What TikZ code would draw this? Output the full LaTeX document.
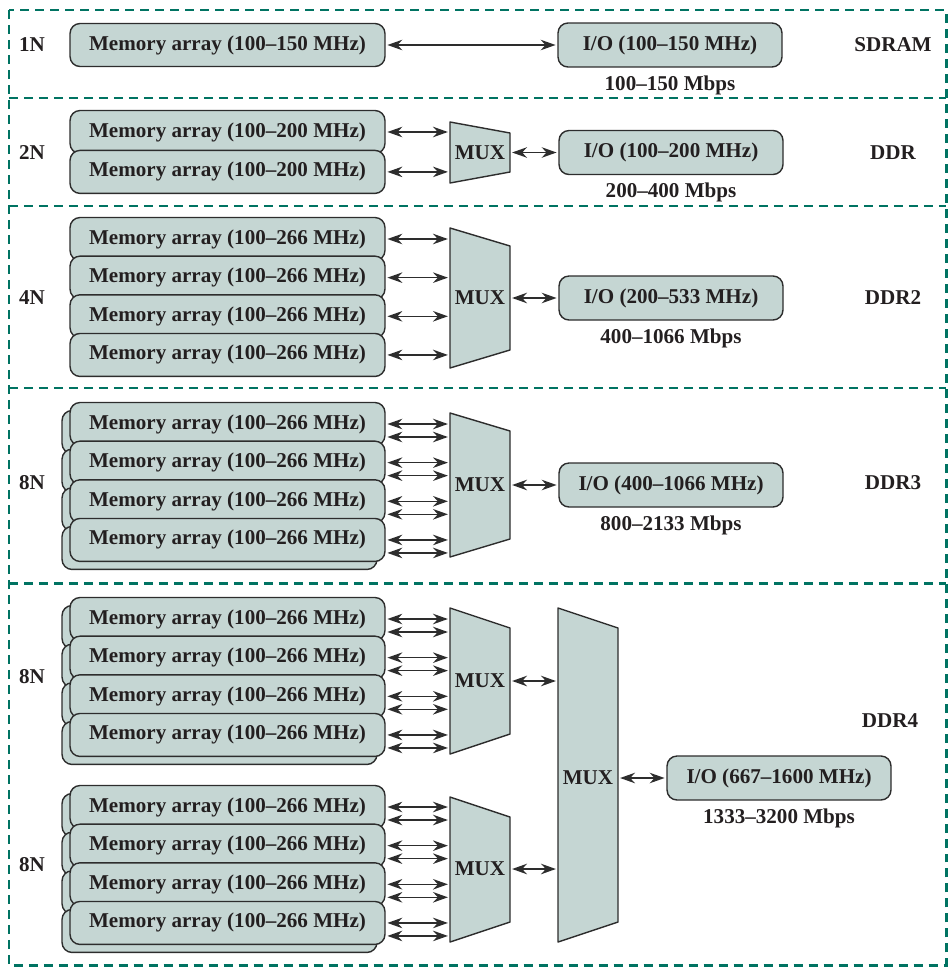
\documentclass[tikz,border=0pt]{standalone}
\usepackage{fontspec}
\setmainfont{Liberation Serif}
\usetikzlibrary{positioning,arrows.meta,shadows}
\definecolor{boxfill}{RGB}{197,214,211}
\definecolor{boxline}{RGB}{45,45,45}
\definecolor{dashteal}{RGB}{0,115,98}
\definecolor{txt}{RGB}{35,31,32}
\tikzset{
  memarray/.style={draw=boxline,fill=boxfill,rounded corners=0.2cm,line width=0.8pt,
    minimum width=6.3cm,minimum height=0.86cm,inner sep=0pt,text=txt},
  membank/.style={memarray,copy shadow={shadow xshift=-0.16cm,shadow yshift=-0.16cm}},
  iobox/.style={memarray,minimum width=4.48cm,minimum height=0.88cm},
  muxbody/.style={draw=boxline,fill=boxfill,line width=0.8pt,line join=round},
  muxlbl/.style={minimum width=1.2cm,inner sep=0pt,text=txt},
  link/.style={{Stealth[length=8.5pt,width=6pt,inset=2.8pt]}-{Stealth[length=8.5pt,width=6pt,inset=2.8pt]},
    line width=0.85pt,draw=boxline,shorten <=1pt,shorten >=1pt},
  lbl/.style={text=txt},
  divider/.style={dashteal,line width=1.7pt,dash pattern=on 0.18cm off 0.12cm}
}
\begin{document}
\begin{tikzpicture}[x=0.02cm,y=-0.02cm,font=\bfseries\fontsize{12}{14}\selectfont]
\useasboundingbox (0,0) rectangle (948,967);
% frame and separators
\draw[divider] (9,10) rectangle (946,965);
\draw[divider] (9,98) -- (946,98);
\draw[divider] (9,206) -- (946,206);
\draw[divider] (9,388) -- (946,388);
\draw[divider] (9,583) -- (946,583);
% SDRAM
\node[lbl] (n1) at (32,45) {1N};
\node[memarray] (m11) at (227.5,45) {Memory array (100--150 MHz)};
\node[iobox] (io1) at (670,45) {I/O (100--150 MHz)};
\node[lbl,below=1pt of io1] (r1) {100--150 Mbps};
\node[lbl] (t1) at (893,45) {SDRAM};
\draw[link] (m11) -- (io1);
% DDR
\node[lbl] (n2) at (32,153) {2N};
\node[memarray] (m21) at (227.5,132) {Memory array (100--200 MHz)};
\node[memarray,below=-0.09cm of m21] (m22) {Memory array (100--200 MHz)};
\draw[muxbody] (450,122) -- (510,133) -- (510,172) -- (450,183) -- cycle;
\node[muxlbl] (mux2) at (480,152.5) {MUX};
\node[iobox,right=0.96cm of mux2] (io2) {I/O (100--200 MHz)};
\node[lbl,below=1pt of io2] (r2) {200--400 Mbps};
\node[lbl] (t2) at (893,153) {DDR};
\draw[link] (m21.east) -- (m21.east -| mux2.west);
\draw[link] (m22.east) -- (m22.east -| mux2.west);
\draw[link] (mux2) -- (io2);
% DDR2
\node[lbl] (n3) at (32,298) {4N};
\node[memarray] (m31) at (227.5,239) {Memory array (100--266 MHz)};
\node[memarray,below=-0.115cm of m31] (m32) {Memory array (100--266 MHz)};
\node[memarray,below=-0.115cm of m32] (m33) {Memory array (100--266 MHz)};
\node[memarray,below=-0.115cm of m33] (m34) {Memory array (100--266 MHz)};
\draw[muxbody] (450,228) -- (510,246) -- (510,350) -- (450,368) -- cycle;
\node[muxlbl] (mux3) at (480,298) {MUX};
\node[iobox,right=0.96cm of mux3] (io3) {I/O (200--533 MHz)};
\node[lbl,below=1pt of io3] (r3) {400--1066 Mbps};
\node[lbl] (t3) at (893,298) {DDR2};
\draw[link] (m31.east) -- (m31.east -| mux3.west);
\draw[link] (m32.east) -- (m32.east -| mux3.west);
\draw[link] (m33.east) -- (m33.east -| mux3.west);
\draw[link] (m34.east) -- (m34.east -| mux3.west);
\draw[link] (mux3) -- (io3);
% DDR3
\node[lbl] (n4) at (32,483) {8N};
\node[membank] (m41) at (227.5,424) {Memory array (100--266 MHz)};
\node[membank,below=-0.115cm of m41] (m42) {Memory array (100--266 MHz)};
\node[membank,below=-0.115cm of m42] (m43) {Memory array (100--266 MHz)};
\node[membank,below=-0.115cm of m43] (m44) {Memory array (100--266 MHz)};
\draw[muxbody] (450,413) -- (510,431) -- (510,539) -- (450,557) -- cycle;
\node[muxlbl] (mux4) at (480,485) {MUX};
\node[iobox,right=0.96cm of mux4] (io4) {I/O (400--1066 MHz)};
\node[lbl,below=1pt of io4] (r4) {800--2133 Mbps};
\node[lbl] (t4) at (893,483) {DDR3};
\draw[link] (m41.east) -- (m41.east -| mux4.west);
\draw[link] ([yshift=-0.26cm]m41.east) -- ([yshift=-0.26cm]m41.east -| mux4.west);
\draw[link] (m42.east) -- (m42.east -| mux4.west);
\draw[link] ([yshift=-0.26cm]m42.east) -- ([yshift=-0.26cm]m42.east -| mux4.west);
\draw[link] (m43.east) -- (m43.east -| mux4.west);
\draw[link] ([yshift=-0.26cm]m43.east) -- ([yshift=-0.26cm]m43.east -| mux4.west);
\draw[link] (m44.east) -- (m44.east -| mux4.west);
\draw[link] ([yshift=-0.26cm]m44.east) -- ([yshift=-0.26cm]m44.east -| mux4.west);
\draw[link] (mux4) -- (io4);
% DDR4
\node[lbl] (n5) at (32,677) {8N};
\node[lbl] (n6) at (32,865) {8N};
\node[membank] (m51) at (227.5,619) {Memory array (100--266 MHz)};
\node[membank,below=-0.115cm of m51] (m52) {Memory array (100--266 MHz)};
\node[membank,below=-0.115cm of m52] (m53) {Memory array (100--266 MHz)};
\node[membank,below=-0.115cm of m53] (m54) {Memory array (100--266 MHz)};
\node[membank] (m55) at (227.5,807) {Memory array (100--266 MHz)};
\node[membank,below=-0.115cm of m55] (m56) {Memory array (100--266 MHz)};
\node[membank,below=-0.115cm of m56] (m57) {Memory array (100--266 MHz)};
\node[membank,below=-0.115cm of m57] (m58) {Memory array (100--266 MHz)};
\draw[muxbody] (450,608) -- (510,628) -- (510,734) -- (450,754) -- cycle;
\node[muxlbl] (mux5) at (480,681) {MUX};
\draw[muxbody] (450,797) -- (510,817) -- (510,922) -- (450,942) -- cycle;
\node[muxlbl] (mux6) at (480,869) {MUX};
\draw[muxbody] (558,608) -- (618,628) -- (618,922) -- (558,942) -- cycle;
\node[muxlbl] (mux7) at (588,778) {MUX};
\node[iobox,right=0.96cm of mux7] (io5) {I/O (667--1600 MHz)};
\node[lbl,below=1pt of io5] (r5) {1333--3200 Mbps};
\node[lbl] (t5) at (890,721) {DDR4};
\draw[link] (m51.east) -- (m51.east -| mux5.west);
\draw[link] ([yshift=-0.26cm]m51.east) -- ([yshift=-0.26cm]m51.east -| mux5.west);
\draw[link] (m52.east) -- (m52.east -| mux5.west);
\draw[link] ([yshift=-0.26cm]m52.east) -- ([yshift=-0.26cm]m52.east -| mux5.west);
\draw[link] (m53.east) -- (m53.east -| mux5.west);
\draw[link] ([yshift=-0.26cm]m53.east) -- ([yshift=-0.26cm]m53.east -| mux5.west);
\draw[link] (m54.east) -- (m54.east -| mux5.west);
\draw[link] ([yshift=-0.26cm]m54.east) -- ([yshift=-0.26cm]m54.east -| mux5.west);
\draw[link] (m55.east) -- (m55.east -| mux6.west);
\draw[link] ([yshift=-0.26cm]m55.east) -- ([yshift=-0.26cm]m55.east -| mux6.west);
\draw[link] (m56.east) -- (m56.east -| mux6.west);
\draw[link] ([yshift=-0.26cm]m56.east) -- ([yshift=-0.26cm]m56.east -| mux6.west);
\draw[link] (m57.east) -- (m57.east -| mux6.west);
\draw[link] ([yshift=-0.26cm]m57.east) -- ([yshift=-0.26cm]m57.east -| mux6.west);
\draw[link] (m58.east) -- (m58.east -| mux6.west);
\draw[link] ([yshift=-0.26cm]m58.east) -- ([yshift=-0.26cm]m58.east -| mux6.west);
\draw[link] (mux5) -- (mux5 -| mux7.west);
\draw[link] (mux6) -- (mux6 -| mux7.west);
\draw[link] (mux7) -- (io5);
\end{tikzpicture}
\end{document}
